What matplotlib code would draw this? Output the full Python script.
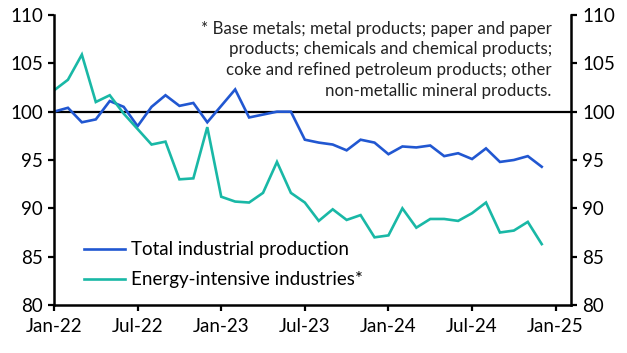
import matplotlib
matplotlib.use("Agg")
import matplotlib.pyplot as plt
import numpy as np

months = ["Jan-22","Feb-22","Mar-22","Apr-22","May-22","Jun-22","Jul-22","Aug-22","Sep-22","Oct-22","Nov-22","Dec-22",
          "Jan-23","Feb-23","Mar-23","Apr-23","May-23","Jun-23","Jul-23","Aug-23","Sep-23","Oct-23","Nov-23","Dec-23",
          "Jan-24","Feb-24","Mar-24","Apr-24","May-24","Jun-24","Jul-24","Aug-24","Sep-24","Oct-24","Nov-24","Dec-24"]
total_ip = [100.0, 100.4, 98.9, 99.2, 101.1, 100.5, 98.5, 100.5, 101.7, 100.6, 100.9, 98.9,
            100.6, 102.3, 99.4, 99.7, 100.0, 100.0, 97.1, 96.8, 96.6, 96.0, 97.1, 96.8,
            95.6, 96.4, 96.3, 96.5, 95.4, 95.7, 95.1, 96.2, 94.8, 95.0, 95.4, 94.3]
energy_int = [102.2, 103.3, 105.9, 101.0, 101.7, 99.8, 98.2, 96.6, 96.9, 93.0, 93.1, 98.4,
              91.2, 90.7, 90.6, 91.6, 94.8, 91.6, 90.6, 88.7, 89.9, 88.8, 89.3, 87.0,
              87.2, 90.0, 88.0, 88.9, 88.9, 88.7, 89.5, 90.6, 87.5, 87.7, 88.6, 86.3]
tick_labels = ["Jan-22", "Jul-22", "Jan-23", "Jul-23", "Jan-24", "Jul-24", "Jan-25"]
y_ticks = [80, 85, 90, 95, 100, 105, 110]
note = ("* Base metals; metal products; paper and paper\n"
        "products; chemicals and chemical products;\n"
        "coke and refined petroleum products; other\n"
        "non-metallic mineral products.")

plt.rcParams['font.family'] = ['Lato', 'DejaVu Sans']
BLUE = "#2157D1"
TEAL = "#19B8A6"

fig = plt.figure(figsize=(6.27, 3.53), dpi=100)
ax = fig.add_axes([54/627, 1-305/353, (571-54)/627, (305-15)/353])
x = np.arange(len(months))
ax.plot(x, total_ip, color=BLUE, lw=1.9, label="Total industrial production", solid_joinstyle='miter')
ax.plot(x, energy_int, color=TEAL, lw=1.9, label="Energy-intensive industries*", solid_joinstyle='miter')
ax.axhline(100, color='black', lw=1.6, zorder=1)

ax.set_xlim(0, 37.1)
ax.set_ylim(80, 110)
ax.set_xticks(np.arange(0, 37, 6))
ax.set_xticklabels(tick_labels)
ax.set_yticks(y_ticks)
ax.tick_params(axis='both', labelsize=13.5, width=1.6, length=4, direction='out', color='black')
ax.tick_params(axis='y', which='both', left=True, right=True, labelleft=True, labelright=True, pad=4)
ax.tick_params(axis='x', pad=5)
for s in ['left', 'right', 'bottom']:
    ax.spines[s].set_linewidth(1.8)
    ax.spines[s].set_color('black')
ax.spines['top'].set_visible(False)

ax.text(0.963, 0.98, note, transform=ax.transAxes, ha='right', va='top', fontsize=12.2,
        linespacing=1.36, color='#222222')
leg = ax.legend(loc='lower left', bbox_to_anchor=(0.025, 0.0), frameon=False, fontsize=13.5,
                handlelength=2.2, handletextpad=0.3, labelspacing=0.68)

fig.savefig("out.png", dpi=100)
